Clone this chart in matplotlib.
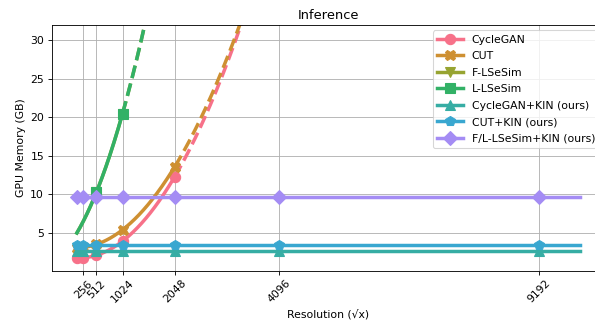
import numpy as np
import matplotlib.pyplot as plt
import seaborn as sns

# measured peak memory (GB) at each input resolution
res_base = [128, 256, 512, 1024, 2048]
cyclegan_mem = [1.8, 1.8, 2.0, 4.0, 12.3]
cut_mem = [3.0, 3.2, 3.5, 5.4, 13.6]

res_lsesim = [128, 512, 1024]
f_lsesim_mem = [5.0, 10.3, 20.5]
l_lsesim_mem = [5.0, 10.3, 20.5]

res_kin = [128, 256, 512, 1024, 2048, 4096, 9192]
cyclegan_kin_mem = [2.7, 2.7, 2.7, 2.7, 2.7, 2.7, 2.7]
cut_kin_mem = [3.4, 3.4, 3.4, 3.4, 3.4, 3.4, 3.4]
lsesim_kin_mem = [9.7, 9.7, 9.7, 9.7, 9.7, 9.7, 9.7]

xtick_vals = [256, 512, 1024, 2048, 4096, 9192]
x_end = 10000

colors = sns.color_palette("husl", 8)

series = [
    ("CycleGAN", res_base, cyclegan_mem, "o", None, 2),
    ("CUT", res_base, cut_mem, "X", None, 2),
    ("F-LSeSim", res_lsesim, f_lsesim_mem, "v", [1, 2], 2),
    ("L-LSeSim", res_lsesim, l_lsesim_mem, "s", [1, 2], 2),
    ("CycleGAN+KIN (ours)", res_kin, cyclegan_kin_mem, "^", None, 0),
    ("CUT+KIN (ours)", res_kin, cut_kin_mem, "p", None, 0),
    ("F/L-LSeSim+KIN (ours)", res_kin, lsesim_kin_mem, "D", None, 0),
]

dpi = 78
fig = plt.figure(figsize=(595 / dpi, 324 / dpi), dpi=dpi)
ax = fig.add_axes([0.0869, 0.1645, 0.930, 0.7583])

for i, (name, xs, ys, mk, mark_idx, deg) in enumerate(series):
    xs = np.array(xs, dtype=float)
    ys = np.array(ys, dtype=float)
    coef = np.polyfit(xs, ys, deg)
    last = xs.max()
    if deg == 0:
        last = x_end
    # solid fit over the measured range, markers at measured points
    grid = np.union1d(np.linspace(xs.min(), last, 300), xs)
    idx = [int(np.searchsorted(grid, v)) for v in xs]
    if mark_idx is not None:
        idx = [idx[j] for j in mark_idx]
    ax.plot(grid, np.polyval(coef, grid), color=colors[i], lw=3.2, marker=mk,
            ms=9.5, markevery=idx, label=name)
    # dashed extrapolation
    if last < x_end:
        ext = np.linspace(last, x_end, 400)
        ax.plot(ext, np.polyval(coef, ext), color=colors[i], lw=3.2, ls="--")

ax.set_xlim(-366, 10494)
ax.set_ylim(0.1, 32)
ax.set_xticks(xtick_vals)
ax.set_xticklabels([str(v) for v in xtick_vals], rotation=45)
ax.grid(True)
ax.set_xlabel("Resolution (√x)")
ax.set_ylabel("GPU Memory (GB)")
ax.set_title("Inference")
ax.legend(loc="upper right", fontsize=10, handlelength=2.4, labelspacing=0.6)

fig.savefig("out.png", dpi=dpi)
